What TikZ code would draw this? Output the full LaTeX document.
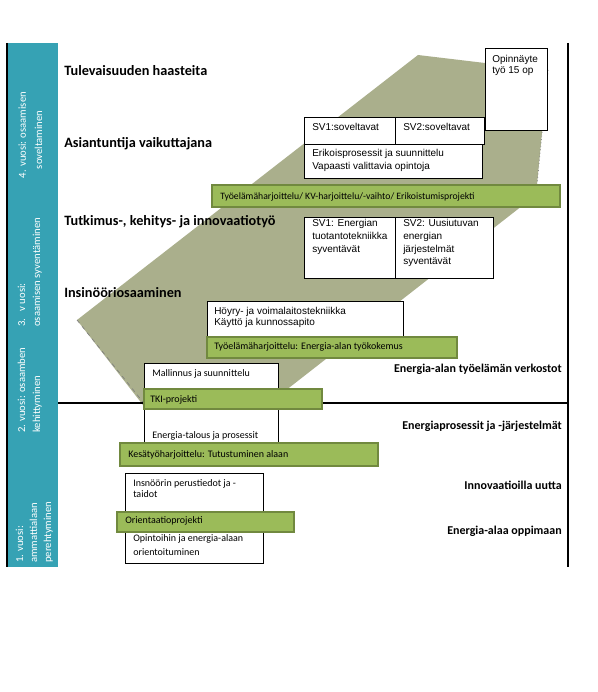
\documentclass[tikz,border=0pt]{standalone}
\usepackage{fontspec}
\setmainfont{Carlito}
\newfontfamily\arialf{Liberation Sans}
\usetikzlibrary{fit}
\definecolor{tealc}{RGB}{54,162,180}
\definecolor{greenf}{RGB}{155,187,89}
\definecolor{greend}{RGB}{113,137,63}
\definecolor{hatchc}{RGB}{170,175,140}
\begin{document}
\begin{tikzpicture}[x=0.75pt,y=-0.75pt,
  box/.style={draw=black,fill=white,line width=0.75pt,inner sep=0pt},
  gbar/.style={draw=greend,fill=greenf,line width=0.9pt,inner sep=0pt},
  tealbox/.style={fill=tealc,draw=none,inner sep=0pt},
  ar/.style={font=\arialf\fontsize{7.5}{9}\selectfont,anchor=base west,inner sep=0pt},
  ca/.style={font=\fontsize{7.5}{9}\selectfont,anchor=base west,inner sep=0pt},
  head/.style={font=\bfseries\fontsize{10.7}{13}\selectfont,anchor=base west,inner sep=0pt},
  rlab/.style={font=\bfseries\fontsize{9}{11}\selectfont,anchor=base east,inner sep=0pt},
  vt/.style={font=\fontsize{8}{9}\selectfont,text=white,rotate=90,inner sep=0pt},
  frame/.style={draw=black,line width=0.9pt}]
\useasboundingbox (0,0) rectangle (598,692);
\fill[white] (0,0) rectangle (598,692);

% hatched band
\fill[hatchc] (77,320) -- (418,55) -- (485,63) -- (548,70) -- (536,195) -- (267,405) -- (143,405) -- cycle;
\draw[gray,dashed,line width=0.5pt] (77,320) -- (143,402);
\draw[gray,dotted,line width=0.6pt] (548,70) -- (536,195);

% teal bar and frame lines
\node[tealbox,fit={(8,43) (58,567)}] (bar) {};
\coordinate (lt) at (7,43); \coordinate (lb) at (7,567);
\coordinate (rt) at (568,43); \coordinate (rb) at (568,567);
\coordinate (hl) at (58,403); \coordinate (hr) at (568,403);
\draw[frame] (lt) -- (lb);
\draw[frame] (rt) -- (rb);
\draw[frame] (hl) -- (hr);

% vertical labels
\node[vt,anchor=base] (y4a) at (26,135) {4. vuosi: osaamisen};
\node[vt,anchor=base] (y4b) at (42,140) {soveltaminen};
\node[vt,anchor=base west] (y3a) at (25,327) {3.~~~v uosi:};
\node[vt,anchor=base west] (y3b) at (40,327) {osaamisen syventäminen};
\node[vt,anchor=base west] (y2a) at (25,433) {2. vuosi: osaamben};
\node[vt,anchor=base west] (y2b) at (40,433) {kehittyminen};
\node[vt,anchor=base west] (y1a) at (23,563) {1. vuosi:};
\node[vt,anchor=base west] (y1b) at (37,563) {ammattialaan};
\node[vt,anchor=base west] (y1c) at (51,563) {perehtyminen};

% left headings
\node[head] (h1) at (64,75) {Tulevaisuuden haasteita};
\node[head] (h2) at (64,147) {Asiantuntija vaikuttajana};
\node[head] (h3) at (64,225) {Tutkimus-, kehitys- ja innovaatiotyö};
\node[head] (h4) at (64,297) {Insinööriosaaminen};

% right labels
\node[rlab] (r1) at (562,372) {Energia-alan työelämän verkostot};
\node[rlab] (r2) at (562,429) {Energiaprosessit ja -järjestelmät};
\node[rlab] (r3) at (562,489) {Innovaatioilla uutta};
\node[rlab] (r4) at (562,534) {Energia-alaa oppimaan};

% year 4 boxes
\node[box,fit={(485,49) (547,130)}] (opin) {};
\node[ar] (opint1) at (492,63) {Opinnäyte};
\node[ar] (opint2) at (492,74) {työ 15 op};
\node[box,fit={(304,117) (395,144)}] (sv1s) {};
\node[box,fit={(395,117) (484,144)}] (sv2s) {};
\node[ar] (sv1st) at (312,130) {SV1:soveltavat};
\node[ar] (sv2st) at (403,130) {SV2:soveltavat};
\node[box,fit={(304,144) (482,178)}] (erik) {};
\node[ar] (erikt1) at (312,156) {Erikoisprosessit ja suunnittelu};
\node[ar] (erikt2) at (312,169) {Vapaasti valittavia opintoja};
\node[gbar,fit={(212,185) (560,207)}] (bar1) {};
\node[ca,font=\fontsize{7.3}{8}\selectfont] (bar1t) at (220,199) {Työelämäharjoittelu/ KV-harjoittelu/-vaihto/ Erikoistumisprojekti};

% year 3 boxes
\node[box,fit={(304,217) (395,278)}] (sv1e) {};
\node[box,fit={(395,217) (493,278)}] (sv2e) {};
\node[ar] (sv1e1) at (312,226) {SV1: Energian};
\node[ar] (sv1e2) at (312,239) {tuotantotekniikka};
\node[ar] (sv1e3) at (312,252) {syventävät};
\node[ar] (sv2e1) at (403,226) {SV2: Uusiutuvan};
\node[ar] (sv2e2) at (403,239) {energian};
\node[ar] (sv2e3) at (403,252) {järjestelmät};
\node[ar] (sv2e4) at (403,264) {syventävät};
\node[box,fit={(207,301) (403,337)}] (hoyry) {};
\node[ar] (hoyry1) at (214,314) {Höyry- ja voimalaitostekniikka};
\node[ar] (hoyry2) at (214,325) {Käyttö ja kunnossapito};
\node[gbar,fit={(207,337) (457,358)}] (bar2) {};
\node[ca] (bar2t) at (214,349) {Työelämäharjoittelu: Energia-alan työkokemus};

% year 2 boxes
\node[box,fit={(144,363) (278,443)}] (mall) {};
\node[ca] (mallt) at (152,376) {Mallinnus ja suunnittelu};
\node[gbar,fit={(144,389) (322,409)}] (tki) {};
\node[ca] (tkit) at (150,402) {TKI-projekti};
\node[ca] (ener) at (152,438) {Energia-talous ja prosessit};
\node[gbar,fit={(120,443) (378,466)}] (kesa) {};
\node[ca] (kesat) at (128,457) {Kesätyöharjoittelu: Tutustuminen alaan};

% year 1 boxes
\node[box,fit={(125,473) (263,563)}] (insb) {};
\node[ca] (ins1) at (133,486) {Insnöörin perustiedot ja -};
\node[ca] (ins2) at (133,497) {taidot};
\node[gbar,fit={(117,512) (294,532)}] (orie) {};
\node[ca] (oriet) at (125,523) {Orientaatioprojekti};
\node[ca] (opi1) at (133,541) {Opintoihin ja energia-alaan};
\node[ca] (opi2) at (133,555) {orientoituminen};
\end{tikzpicture}
\end{document}
